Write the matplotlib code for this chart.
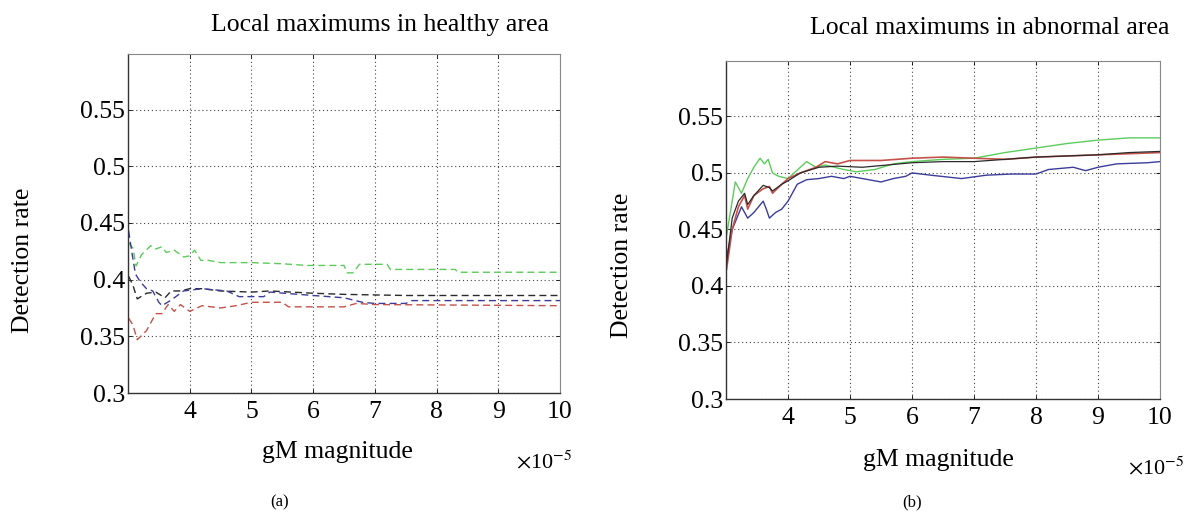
import matplotlib
matplotlib.use("Agg")
import matplotlib.pyplot as plt

plt.rcParams['font.family'] = ['Liberation Serif', 'DejaVu Serif']
plt.rcParams['mathtext.fontset'] = 'stix'

# ---- data (x in units of 1e-5) ----
# Left panel: healthy area (dashed)
hx_green = [3.01, 3.08, 3.13, 3.22, 3.37, 3.45, 3.55, 3.62, 3.75, 3.9, 4.0, 4.08, 4.18, 4.3, 4.5, 5.0, 5.5, 5.9, 6.5, 6.55, 6.65, 6.75, 7.2, 7.25, 8.3, 8.35, 10.0]
hy_green = [0.432, 0.428, 0.412, 0.422, 0.430, 0.427, 0.429, 0.424, 0.426, 0.420, 0.421, 0.426, 0.417, 0.417, 0.415, 0.415, 0.414, 0.4125, 0.4125, 0.406, 0.406, 0.4135, 0.4135, 0.409, 0.409, 0.4065, 0.4065]

hx_black = [3.01, 3.08, 3.15, 3.3, 3.45, 3.6, 3.7, 3.85, 4.0, 4.2, 4.5, 5.0, 5.3, 6.0, 6.5, 7.5, 10.0]
hy_black = [0.403, 0.395, 0.383, 0.388, 0.389, 0.384, 0.390, 0.390, 0.392, 0.392, 0.390, 0.389, 0.390, 0.388, 0.387, 0.386, 0.386]

hx_blue = [3.01, 3.06, 3.12, 3.2, 3.3, 3.4, 3.5, 3.55, 3.7, 3.9, 4.2, 4.6, 4.8, 5.2, 5.3, 6.0, 6.5, 6.8, 7.0, 7.5, 7.6, 10.0]
hy_blue = [0.443, 0.425, 0.405, 0.398, 0.392, 0.390, 0.380, 0.377, 0.382, 0.390, 0.392, 0.390, 0.385, 0.385, 0.389, 0.386, 0.384, 0.380, 0.379, 0.379, 0.3815, 0.3815]

hx_red = [3.01, 3.08, 3.15, 3.3, 3.45, 3.55, 3.65, 3.75, 3.85, 4.0, 4.2, 4.5, 4.75, 5.0, 5.5, 5.6, 6.5, 6.7, 7.0, 10.0]
hy_red = [0.366, 0.360, 0.347, 0.355, 0.370, 0.370, 0.378, 0.372, 0.378, 0.372, 0.377, 0.375, 0.377, 0.380, 0.380, 0.376, 0.376, 0.379, 0.378, 0.377]

# Right panel: abnormal area (solid)
ax_green = [3.01, 3.1, 3.15, 3.25, 3.35, 3.45, 3.55, 3.62, 3.68, 3.75, 3.85, 4.0, 4.1, 4.3, 4.45, 4.6, 4.9, 5.1, 5.4, 5.7, 6.0, 6.5, 7.0, 7.5, 8.0, 8.5, 9.0, 9.5, 10.0]
ay_green = [0.445, 0.475, 0.492, 0.482, 0.495, 0.505, 0.513, 0.508, 0.512, 0.500, 0.497, 0.495, 0.500, 0.510, 0.505, 0.507, 0.503, 0.501, 0.503, 0.508, 0.510, 0.512, 0.513, 0.518, 0.522, 0.526, 0.529, 0.531, 0.531]

ax_black = [3.01, 3.1, 3.2, 3.3, 3.35, 3.45, 3.6, 3.7, 3.75, 3.9, 4.0, 4.2, 4.5, 4.8, 5.2, 5.6, 6.0, 6.5, 7.0, 7.5, 8.0, 8.5, 9.0, 9.5, 10.0]
ay_black = [0.420, 0.460, 0.475, 0.482, 0.472, 0.480, 0.489, 0.487, 0.484, 0.490, 0.493, 0.500, 0.505, 0.506, 0.505, 0.507, 0.509, 0.510, 0.510, 0.512, 0.514, 0.515, 0.516, 0.518, 0.519]

ax_red = [3.01, 3.1, 3.2, 3.3, 3.35, 3.45, 3.6, 3.7, 3.75, 3.9, 4.0, 4.2, 4.45, 4.6, 4.8, 5.0, 5.5, 6.0, 6.5, 7.0, 7.5, 8.0, 9.0, 10.0]
ay_red = [0.415, 0.450, 0.470, 0.480, 0.468, 0.480, 0.486, 0.488, 0.482, 0.490, 0.495, 0.500, 0.505, 0.510, 0.508, 0.511, 0.511, 0.513, 0.514, 0.513, 0.512, 0.514, 0.516, 0.518]

ax_blue = [3.01, 3.1, 3.25, 3.35, 3.45, 3.6, 3.65, 3.7, 3.8, 3.9, 4.0, 4.05, 4.15, 4.3, 4.5, 4.7, 4.9, 5.0, 5.2, 5.5, 5.7, 5.9, 6.0, 6.3, 6.8, 7.2, 7.6, 8.0, 8.2, 8.6, 8.8, 9.0, 9.3, 9.8, 10.0]
ay_blue = [0.425, 0.450, 0.470, 0.460, 0.465, 0.475, 0.468, 0.460, 0.465, 0.468, 0.475, 0.480, 0.490, 0.494, 0.495, 0.497, 0.495, 0.497, 0.495, 0.492, 0.495, 0.497, 0.500, 0.498, 0.495, 0.498, 0.499, 0.499, 0.503, 0.505, 0.502, 0.505, 0.508, 0.509, 0.510]

xticks = [4, 5, 6, 7, 8, 9, 10]
yticks = [0.3, 0.35, 0.4, 0.45, 0.5, 0.55]
ytick_labels = ['0.3', '0.35', '0.4', '0.45', '0.5', '0.55']

C_GREEN = '#5ccc5c'
C_BLACK = '#2a2a2a'
C_BLUE = '#3c3c9a'
C_RED = '#c4524a'

FS = 18.5

fig = plt.figure(figsize=(11.84, 5.12), dpi=100)
fig.patch.set_facecolor('white')

def style_axes(ax):
    ax.set_xlim(3.0, 10)
    ax.set_ylim(0.3, 0.599)
    ax.set_xticks(xticks)
    ax.set_xticklabels([str(t) for t in xticks])
    ax.set_yticks(yticks)
    ax.set_yticklabels(ytick_labels)
    ax.tick_params(direction='in', length=3, width=0.6, labelsize=FS, top=True, right=True,
                   labeltop=False, labelright=False)
    ax.tick_params(axis='x', pad=6)
    ax.tick_params(axis='y', pad=2)
    ax.grid(True, linestyle=(0, (1, 2.5)), color='#444444', linewidth=0.8)
    ax.set_axisbelow(True)
    for s in ['left', 'bottom']:
        ax.spines[s].set_color('#333333')
        ax.spines[s].set_linewidth(1.0)
    for s in ['top', 'right']:
        ax.spines[s].set_color('#888888')
        ax.spines[s].set_linewidth(0.8)

ax1 = fig.add_axes([128/1184, 1 - 393/512, 432/1184, 339/512])
style_axes(ax1)
ds = (0, (5, 3))
ax1.plot(hx_green, hy_green, color=C_GREEN, lw=1.0, ls=ds)
ax1.plot(hx_black, hy_black, color=C_BLACK, lw=1.0, ls=ds)
ax1.plot(hx_blue, hy_blue, color=C_BLUE, lw=1.0, ls=ds)
ax1.plot(hx_red, hy_red, color=C_RED, lw=1.0, ls=ds)

ax2 = fig.add_axes([726/1184, 1 - 399/512, 434/1184, 338/512])
style_axes(ax2)
ax2.plot(ax_blue, ay_blue, color=C_BLUE, lw=1.0)
ax2.plot(ax_green, ay_green, color=C_GREEN, lw=1.0)
ax2.plot(ax_red, ay_red, color=C_RED, lw=1.2)
ax2.plot(ax_black, ay_black, color=C_BLACK, lw=0.9)

# Texts
fig.text(380/1184, 1 - 25/512, 'Local maximums in healthy area', ha='center', va='center', fontsize=FS)
fig.text(990/1184, 1 - 28/512, 'Local maximums in abnormal area', ha='center', va='center', fontsize=FS)

fig.text(337/1184, 1 - 452/512, 'gM magnitude', ha='center', va='center', fontsize=FS)
fig.text(938/1184, 1 - 460/512, 'gM magnitude', ha='center', va='center', fontsize=FS)

fig.text(516/1184, 1 - 462/512, r'$\times$10$^{-5}$', ha='left', va='center', fontsize=16)
fig.text(1128/1184, 1 - 468/512, r'$\times$10$^{-5}$', ha='left', va='center', fontsize=16)

fig.text(23/1184, 1 - 260/512, 'Detection rate', ha='center', va='center', rotation=90, fontsize=FS)
fig.text(622/1184, 1 - 265/512, 'Detection rate', ha='center', va='center', rotation=90, fontsize=FS)

fig.text(280/1184, 1 - 502/512, '(a)', ha='center', va='center', fontsize=12)
fig.text(912/1184, 1 - 502/512, '(b)', ha='center', va='center', fontsize=12)

fig.savefig('out.png', dpi=100, facecolor='white')
